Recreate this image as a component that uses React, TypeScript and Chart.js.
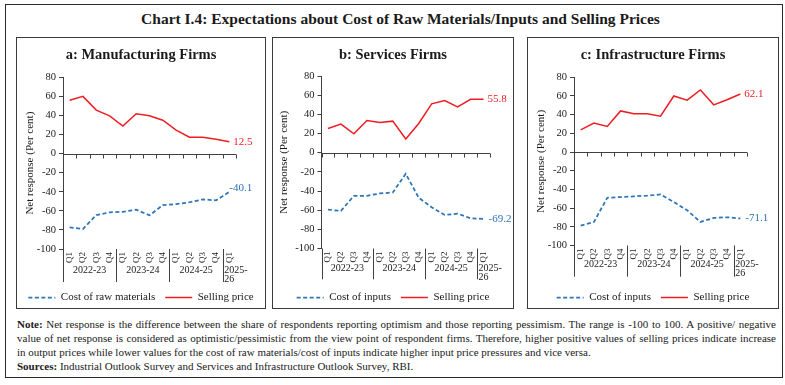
import React, { useEffect, useRef } from 'react';
import { Chart, registerables } from 'chart.js';

Chart.register(...registerables);

// ---------- data ----------
const quarterLabels = ['Q1', 'Q2', 'Q3', 'Q4', 'Q1', 'Q2', 'Q3', 'Q4', 'Q1', 'Q2', 'Q3', 'Q4', 'Q1'];
const fiscalYears = ['2022-23', '2023-24', '2024-25', '2025-26'];
const quartersInYear = [4, 4, 4, 1];
const yMin = -100;
const yMax = 80;
const yStep = 20;

const mfgCostOfRawMaterials = [-77.3, -79, -64.4, -61.6, -61, -58.8, -64.7, -54, -53, -51, -48, -49, -40.1];
const mfgSellingPrice = [56, 60, 45.6, 39.6, 28.8, 41.8, 39.6, 35, 24.6, 17.2, 17.2, 15, 12.5];
const svcCostOfInputs = [-59.4, -60.8, -45, -45, -42.6, -41.5, -22, -47, -57, -65, -63.6, -68.5, -69.2];
const svcSellingPrice = [25.3, 29.8, 19.7, 33.6, 31.5, 32.9, 14.2, 30.4, 50.9, 54.3, 47.8, 55.7, 55.8];
const infraCostOfInputs = [-78.7, -74.8, -48.9, -48.2, -47.4, -46.7, -45.3, -53.5, -62.3, -74.8, -70.5, -69.8, -71.1];
const infraSellingPrice = [23.8, 31, 27.4, 44, 41, 41, 38.4, 60, 55.5, 66.5, 50.5, 56, 62.1];

const chartTitle = 'Chart I.4: Expectations about Cost of Raw Materials/Inputs and Selling Prices';
const yAxisTitle = 'Net response (Per cent)';
const sellingLabel = 'Selling price';

// ---------- style ----------
const F = "'Liberation Serif', 'Times New Roman', serif";
const BLUE = '#2e75b6';
const RED = '#ee1d23';
const AXIS = '#404040';
const TXT = '#1a1a1a';
const PANEL_TOP = 37;
const PANEL_H = 271.5;
const CANVAS_H = 276;
const LEGEND_FONT = 11;
const LEGEND_PAD = 10;
const LEGEND_TOP = CANVAS_H - (LEGEND_FONT + LEGEND_PAD + 10);

type PanelCfg = {
  title: string;
  costLabel: string;
  cost: number[];
  sell: number[];
  left: number;
  width: number;
  yAxisWidth: number;
  rightPad: number;
  titlePadTop: number;
  titlePadBottom: number;
  chartBottom: number;
  yTitlePad: number;
  yearY: number;
  sepBottom: number;
  costDx: number;
  costDy: number;
};

const panels: PanelCfg[] = [
  {
    title: 'a: Manufacturing Firms', costLabel: 'Cost of raw materials',
    cost: mfgCostOfRawMaterials, sell: mfgSellingPrice,
    left: 16, width: 250, yAxisWidth: 47, rightPad: 30,
    titlePadTop: 9.3, titlePadBottom: 13.6, chartBottom: 212,
    yTitlePad: 7.4, yearY: 233, sepBottom: 245, costDx: 0, costDy: -4,
  },
  {
    title: 'b: Services Firms', costLabel: 'Cost of inputs',
    cost: svcCostOfInputs, sell: svcSellingPrice,
    left: 272, width: 242, yAxisWidth: 49.5, rightPad: 24,
    titlePadTop: 9.3, titlePadBottom: 12.3, chartBottom: 211.5,
    yTitlePad: 5.4, yearY: 231.3, sepBottom: 242.3, costDx: 5, costDy: 0,
  },
  {
    title: 'c: Infrastructure Firms', costLabel: 'Cost of inputs',
    cost: infraCostOfInputs, sell: infraSellingPrice,
    left: 527, width: 252, yAxisWidth: 47, rightPad: 32,
    titlePadTop: 9.3, titlePadBottom: 13.6, chartBottom: 208.5,
    yTitlePad: 7.4, yearY: 227, sepBottom: 239.7, costDx: 5, costDy: 0,
  },
];

function decorPlugin(cfg: PanelCfg) {
  return {
    id: 'decor',
    afterDraw(chart: any) {
      const { ctx, chartArea, scales } = chart;
      const x = scales.x;
      const y = scales.y;
      const y0 = Math.round(y.getPixelForValue(0)) + 0.5;
      const step = x.getPixelForValue(1) - x.getPixelForValue(0);
      const boundary = (i: number) => x.getPixelForValue(0) - step / 2 + i * step;
      ctx.save();
      ctx.strokeStyle = AXIS;
      ctx.lineWidth = 1;
      ctx.beginPath();
      ctx.moveTo(chartArea.left, y0);
      ctx.lineTo(chartArea.right, y0);
      for (let i = 0; i <= quarterLabels.length; i++) {
        const bx = Math.round(boundary(i)) + 0.5;
        ctx.moveTo(bx, y0);
        ctx.lineTo(bx, y0 + 4);
      }
      ctx.stroke();

      // year separators and labels
      ctx.font = `10px ${F}`;
      ctx.fillStyle = TXT;
      ctx.textBaseline = 'middle';
      let idx = 0;
      fiscalYears.forEach((yr, k) => {
        const start = idx;
        const end = idx + quartersInYear[k];
        const bx = boundary(start);
        const sx = Math.round(bx) + 0.5;
        ctx.beginPath();
        ctx.moveTo(sx, chartArea.bottom);
        ctx.lineTo(sx, cfg.sepBottom);
        ctx.stroke();
        const w = boundary(end) - bx;
        if (ctx.measureText(yr).width <= w - 2) {
          ctx.textAlign = 'center';
          ctx.fillText(yr, bx + w / 2, cfg.yearY);
        } else {
          const cut = yr.indexOf('-') + 1;
          ctx.textAlign = 'left';
          ctx.fillText(yr.slice(0, cut), bx + 1.5, cfg.yearY);
          ctx.fillText(yr.slice(cut), bx + 1.5, cfg.yearY + 9.5);
        }
        idx = end;
      });

      // end value labels
      ctx.font = `11px ${F}`;
      ctx.textAlign = 'left';
      chart.data.datasets.forEach((ds: any, di: number) => {
        const meta = chart.getDatasetMeta(di);
        const last = ds.data.length - 1;
        const pt = meta.data[last];
        const isCost = di === 0;
        ctx.fillStyle = ds.borderColor;
        ctx.fillText(String(ds.data[last]), pt.x + (isCost ? cfg.costDx : 4), pt.y + (isCost ? cfg.costDy : 0));
      });
      ctx.restore();
    },
  };
}

function buildConfig(cfg: PanelCfg): any {
  return {
    type: 'line',
    data: {
      labels: quarterLabels,
      datasets: [
        {
          label: cfg.costLabel, data: cfg.cost, borderColor: BLUE, backgroundColor: BLUE,
          borderWidth: 1.75, borderDash: [4, 2.5], pointRadius: 0, tension: 0, fill: false,
        },
        {
          label: sellingLabel, data: cfg.sell, borderColor: RED, backgroundColor: RED,
          borderWidth: 1.5, pointRadius: 0, tension: 0, fill: false,
        },
      ],
    },
    options: {
      animation: false,
      responsive: false,
      maintainAspectRatio: false,
      layout: { padding: 0 },
      events: [],
      plugins: {
        title: {
          display: true, text: cfg.title, color: TXT,
          font: { family: F, size: 14.5, weight: 'bold' },
          padding: { top: cfg.titlePadTop, bottom: cfg.titlePadBottom },
        },
        legend: {
          position: 'bottom',
          labels: {
            usePointStyle: true, pointStyle: 'line', pointStyleWidth: 27,
            font: { family: F, size: LEGEND_FONT }, color: TXT, padding: LEGEND_PAD,
            generateLabels: (chart: any) => {
              const base = Chart.defaults.plugins.legend.labels.generateLabels(chart);
              return base.map((item: any) => {
                const ds = chart.data.datasets[item.datasetIndex];
                return {
                  ...item,
                  pointStyle: 'line',
                  lineDash: ds.borderDash || [],
                  lineWidth: ds.borderWidth,
                  strokeStyle: ds.borderColor,
                  fillStyle: ds.borderColor,
                };
              });
            },
          },
        },
        tooltip: { enabled: false },
      },
      scales: {
        x: {
          offset: true,
          grid: { display: false, drawTicks: false },
          border: { display: false },
          ticks: {
            font: { family: F, size: 9 }, color: TXT, padding: 3,
            minRotation: 90, maxRotation: 90, autoSkip: false,
          },
          afterFit: (s: any) => {
            s.height = LEGEND_TOP - cfg.chartBottom;
            s.paddingRight = cfg.rightPad;
          },
        },
        y: {
          min: yMin, max: yMax,
          ticks: { stepSize: yStep, font: { family: F, size: 10.5 }, color: TXT, padding: 3 },
          grid: { drawOnChartArea: false, drawTicks: true, tickLength: 4, color: AXIS },
          border: { display: true, color: AXIS, width: 1 },
          title: {
            display: true, text: yAxisTitle, color: TXT,
            font: { family: F, size: 11 },
            padding: { top: cfg.yTitlePad, bottom: 0 },
          },
          afterFit: (s: any) => { s.width = cfg.yAxisWidth; },
        },
      },
    },
    plugins: [decorPlugin(cfg)],
  };
}

function ChartPanel({ cfg }: { cfg: PanelCfg }) {
  const ref = useRef<HTMLCanvasElement>(null);
  useEffect(() => {
    const chart = new Chart(ref.current as HTMLCanvasElement, buildConfig(cfg));
    return () => chart.destroy();
  }, [cfg]);
  return (
    <>
      <div style={{
        position: 'absolute', left: cfg.left, top: PANEL_TOP, width: cfg.width, height: PANEL_H,
        border: '1px solid #3a3a3a', boxSizing: 'border-box',
      }} />
      <canvas ref={ref} width={cfg.width} height={CANVAS_H} style={{
        position: 'absolute', left: cfg.left, top: PANEL_TOP, width: cfg.width, height: CANVAS_H,
      }} />
    </>
  );
}

const noteLines = [
  'Net response is the difference between the share of respondents reporting optimism and those reporting pessimism. The range is -100 to 100. A positive/ negative',
  'value of net response is considered as optimistic/pessimistic from the view point of respondent firms. Therefore, higher positive values of selling prices indicate increase',
  'in output prices while lower values for the cost of raw materials/cost of inputs indicate higher input price pressures and vice versa.',
];
const sourceText = 'Industrial Outlook Survey and Services and Infrastructure Outlook Survey, RBI.';

export default function App() {
  const lineStyle = (justify: boolean): React.CSSProperties => ({
    whiteSpace: 'nowrap', height: 14, lineHeight: '14px',
    textAlign: justify ? 'justify' : 'left', textAlignLast: justify ? 'justify' : 'left',
  } as React.CSSProperties);
  return (
    <div style={{ position: 'fixed', left: 0, top: 0, width: 785, height: 385, background: '#fff', fontFamily: F, color: TXT }}>
      <div style={{
        position: 'absolute', left: 5, top: 4, width: 778, height: 374,
        border: '1.5px solid #2a2a2a', boxSizing: 'border-box',
      }} />
      <div style={{
        position: 'absolute', left: 8, top: 8, width: 785, height: 22, lineHeight: '22px',
        textAlign: 'center', fontWeight: 'bold', fontSize: 15.5,
      }}>{chartTitle}</div>
      {panels.map((p, i) => <ChartPanel key={i} cfg={p} />)}
      <div style={{ position: 'absolute', left: 17, top: 317, width: 759, fontSize: 11 }}>
        <div style={lineStyle(true)}><b>Note:</b> {noteLines[0]}</div>
        <div style={lineStyle(true)}>{noteLines[1]}</div>
        <div style={lineStyle(false)}>{noteLines[2]}</div>
        <div style={lineStyle(false)}><b>Sources:</b> {sourceText}</div>
      </div>
    </div>
  );
}
